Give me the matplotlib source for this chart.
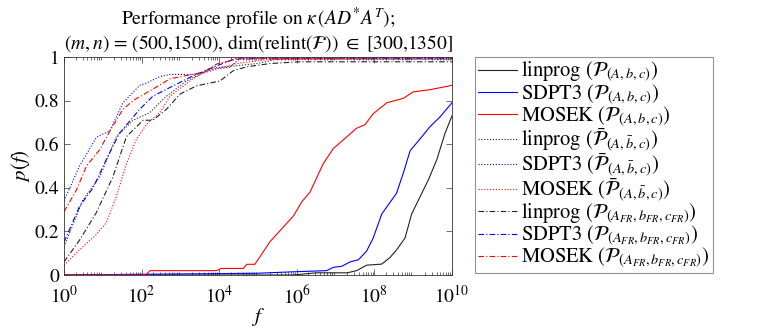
import numpy as np
import matplotlib
matplotlib.use("Agg")
import matplotlib.pyplot as plt
from matplotlib.ticker import LogLocator, NullFormatter

plt.rcParams['font.family'] = ['STIXGeneral', 'DejaVu Serif']
plt.rcParams['mathtext.fontset'] = 'stix'

# ---- data (log10 f, p(f)) ----
lin_P_x = [0, 5.9, 6.5, 7.3, 7.54, 7.80, 8.19, 8.40, 8.57, 8.79, 8.96, 9.18, 9.40, 9.61, 9.82, 10.0]
lin_P_y = [0, 0.0, 0.01, 0.01, 0.02, 0.045, 0.05, 0.08, 0.115, 0.17, 0.28, 0.36, 0.44, 0.53, 0.65, 0.73]

sdp_P_x = [0, 4.97, 5.96, 6.77, 6.94, 7.16, 7.37, 7.59, 7.80, 7.97, 8.19, 8.57, 8.75, 8.92, 9.18, 9.43, 9.69, 10.0]
sdp_P_y = [0, 0.008, 0.015, 0.02, 0.035, 0.04, 0.06, 0.07, 0.11, 0.17, 0.28, 0.375, 0.47, 0.57, 0.625, 0.68, 0.725, 0.79]

mos_P_x = [0, 2.10, 2.22, 3.93, 4.05, 4.62, 4.71, 4.92, 5.31, 5.91, 6.13, 6.34, 6.68, 6.94, 7.20, 7.54, 7.76, 7.97, 8.32, 8.74, 9.0, 9.43, 10.0]
mos_P_y = [0, 0.0, 0.02, 0.02, 0.03, 0.03, 0.049, 0.049, 0.153, 0.27, 0.336, 0.38, 0.51, 0.58, 0.62, 0.673, 0.69, 0.74, 0.79, 0.81, 0.84, 0.85, 0.87]

lin_Pb_x = [0, 0.49, 0.92, 1.35, 1.78, 2.21, 2.64, 3.15, 3.84, 4.45, 4.97, 5.5, 10.0]
lin_Pb_y = [0.13, 0.345, 0.45, 0.635, 0.71, 0.745, 0.82, 0.89, 0.95, 0.96, 0.97, 0.99, 0.99]

sdp_Pb_x = [0, 0.40, 0.83, 0.92, 1.18, 1.52, 1.95, 2.12, 2.47, 2.73, 3.42, 3.84, 4.28, 4.54, 10.0]
sdp_Pb_y = [0.34, 0.50, 0.63, 0.64, 0.66, 0.79, 0.87, 0.88, 0.91, 0.92, 0.92, 0.945, 0.953, 0.995, 0.995]

mos_Pb_x = [0, 0.49, 0.83, 1.09, 1.35, 1.61, 1.86, 2.12, 2.47, 2.73, 3.32, 3.59, 4.1, 4.45, 5.31, 10.0]
mos_Pb_y = [0.045, 0.13, 0.185, 0.24, 0.36, 0.51, 0.62, 0.69, 0.745, 0.82, 0.90, 0.926, 0.953, 0.97, 0.99, 0.99]

lin_FR_x = [0, 0.40, 0.83, 1.26, 1.61, 2.04, 2.29, 2.64, 2.99, 3.42, 4.02, 4.36, 4.71, 5.31, 6.08, 10.0]
lin_FR_y = [0.06, 0.16, 0.285, 0.45, 0.635, 0.71, 0.71, 0.76, 0.83, 0.868, 0.89, 0.937, 0.955, 0.97, 0.978, 0.978]

sdp_FR_x = [0, 0.40, 0.75, 1.09, 1.43, 1.95, 2.29, 2.73, 3.25, 3.84, 4.45, 10.0]
sdp_FR_y = [0.15, 0.315, 0.40, 0.53, 0.65, 0.76, 0.82, 0.86, 0.907, 0.953, 0.995, 0.995]

mos_FR_x = [0, 0.32, 0.58, 0.92, 1.18, 1.52, 1.78, 2.12, 2.55, 2.73, 3.59, 3.94, 4.45, 10.0]
mos_FR_y = [0.29, 0.39, 0.50, 0.575, 0.66, 0.76, 0.80, 0.835, 0.88, 0.90, 0.93, 0.968, 0.99, 1.0]

labels = [
    r"linprog ($\mathcal{P}_{(A,b,c)}$)",
    r"SDPT3 ($\mathcal{P}_{(A,b,c)}$)",
    r"MOSEK ($\mathcal{P}_{(A,b,c)}$)",
    r"linprog ($\bar{\mathcal{P}}_{(A,\bar{b},c)}$)",
    r"SDPT3 ($\bar{\mathcal{P}}_{(A,\bar{b},c)}$)",
    r"MOSEK ($\bar{\mathcal{P}}_{(A,\bar{b},c)}$)",
    r"linprog ($\mathcal{P}_{(A_{FR},b_{FR},c_{FR})}$)",
    r"SDPT3 ($\mathcal{P}_{(A_{FR},b_{FR},c_{FR})}$)",
    r"MOSEK ($\mathcal{P}_{(A_{FR},b_{FR},c_{FR})}$)",
]

series = [
    (lin_P_x, lin_P_y), (sdp_P_x, sdp_P_y), (mos_P_x, mos_P_y),
    (lin_Pb_x, lin_Pb_y), (sdp_Pb_x, sdp_Pb_y), (mos_Pb_x, mos_Pb_y),
    (lin_FR_x, lin_FR_y), (sdp_FR_x, sdp_FR_y), (mos_FR_x, mos_FR_y),
]
colors = ['#222222', '#0000ff', '#ff0000'] * 3
styles = ['-'] * 3 + [(0, (1, 1.6))] * 3 + [(0, (5, 2, 1, 2))] * 3

fig = plt.figure(figsize=(7.63, 3.27), dpi=100)
ax = fig.add_axes([64 / 763, 52 / 327, 388 / 763, 218 / 327])

handles = []
for (xs, ys), c, ls, lab in zip(series, colors, styles, labels):
    h, = ax.plot(10.0 ** np.array(xs), ys, color=c, ls=ls, lw=0.8, label=lab)
    handles.append(h)

ax.set_xscale('log')
ax.set_xlim(1, 1e10)
ax.set_ylim(0, 1)
ax.set_xticks([1e0, 1e2, 1e4, 1e6, 1e8, 1e10])
ax.xaxis.set_minor_locator(LogLocator(base=10, subs=np.arange(2, 10), numticks=100))
ax.xaxis.set_minor_formatter(NullFormatter())
ax.set_yticks([0, 0.2, 0.4, 0.6, 0.8, 1])
ax.set_yticklabels(['0', '0.2', '0.4', '0.6', '0.8', '1'])
ax.tick_params(which='both', direction='in', top=True, right=True, labelsize=14, color='#333333')
ax.tick_params(axis='x', which='major', pad=7)
ax.tick_params(which='major', length=4, width=0.5)
ax.tick_params(which='minor', length=2, width=0.5)
for s in ax.spines.values():
    s.set_linewidth(0.6)
    s.set_color('#333333')

ax.set_xlabel(r"$f$", fontsize=15, labelpad=-1)
ax.set_ylabel(r"$p(f)$", fontsize=15, labelpad=2)
ax.set_title("Performance profile on $\\kappa\\,\\left(AD^{*}A^{T}\\right)$;\n"
             "$(m,n)$ = (500,1500), dim(relint($\\mathcal{F}$)) $\\in$ [300,1350]",
             fontsize=14, pad=6, linespacing=1.1)

leg = fig.legend(handles=handles, loc='upper left', bbox_to_anchor=(475 / 763, 1 - 57 / 327),
                 fontsize=14.8, frameon=True, fancybox=False, edgecolor='#777777',
                 handlelength=1.9, handletextpad=0.2, labelspacing=-0.1, borderpad=0.15,
                 borderaxespad=0)
leg.get_frame().set_linewidth(0.8)

fig.savefig("out.png", dpi=100)
